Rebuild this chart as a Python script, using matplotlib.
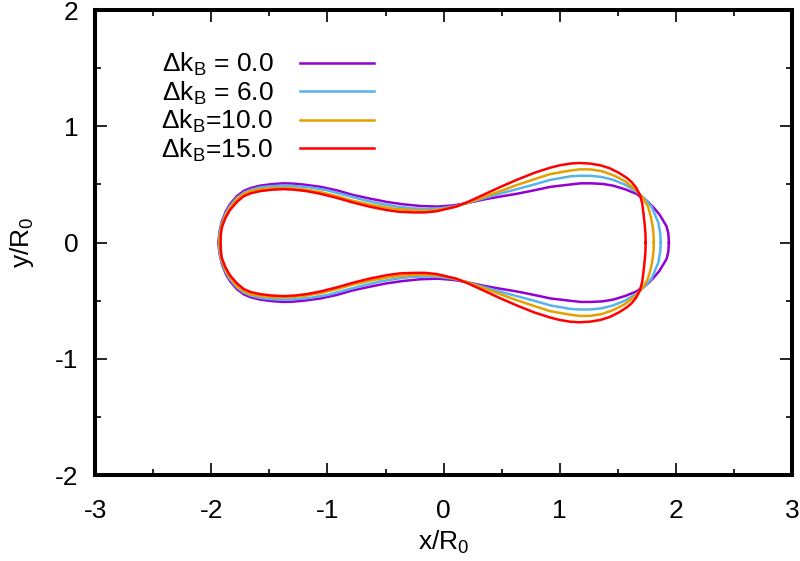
import matplotlib.pyplot as plt
from matplotlib.ticker import MultipleLocator

# upper half of each contour, from right tip over the top to left tip
x_k0 = [1.94, 1.935, 1.92, 1.89, 1.86, 1.81, 1.75, 1.66, 1.56, 1.46, 1.37, 1.27, 1.18, 1.09,
        0.92, 0.78, 0.63, 0.48, 0.34, 0.20, 0.08, -0.05, -0.20, -0.35, -0.49, -0.64, -0.78,
        -0.92, -1.06, -1.21, -1.30, -1.38, -1.48, -1.58, -1.66, -1.72, -1.78, -1.84, -1.875,
        -1.91, -1.93, -1.94]
y_k0 = [0.00, 0.08, 0.14, 0.19, 0.24, 0.30, 0.36, 0.42, 0.46, 0.49, 0.505, 0.51, 0.51, 0.50,
        0.48, 0.45, 0.42, 0.395, 0.37, 0.34, 0.32, 0.31, 0.315, 0.33, 0.35, 0.38, 0.41,
        0.45, 0.48, 0.50, 0.508, 0.51, 0.503, 0.49, 0.47, 0.445, 0.40, 0.33, 0.27,
        0.18, 0.09, 0.00]

x_k6 = [1.87, 1.865, 1.85, 1.82, 1.79, 1.73, 1.66, 1.56, 1.46, 1.36, 1.26, 1.17, 1.09, 0.92,
        0.78, 0.63, 0.48, 0.34, 0.20, 0.08, -0.04, -0.15, -0.28, -0.40, -0.55, -0.70, -0.85,
        -1.00, -1.15, -1.30, -1.40, -1.50, -1.58, -1.66, -1.72, -1.78, -1.84, -1.875, -1.91,
        -1.93, -1.935]
y_k6 = [0.00, 0.08, 0.17, 0.24, 0.31, 0.38, 0.44, 0.50, 0.54, 0.565, 0.575, 0.575, 0.57, 0.54,
        0.50, 0.46, 0.42, 0.38, 0.34, 0.31, 0.295, 0.29, 0.295, 0.31, 0.335, 0.37, 0.41,
        0.45, 0.475, 0.488, 0.49, 0.485, 0.475, 0.455, 0.43, 0.385, 0.315, 0.255, 0.165,
        0.08, 0.00]

x_k10 = [1.81, 1.808, 1.80, 1.785, 1.76, 1.72, 1.66, 1.56, 1.46, 1.36, 1.26, 1.17, 1.09, 0.92,
         0.78, 0.63, 0.48, 0.34, 0.20, 0.10, -0.02, -0.15, -0.30, -0.45, -0.60, -0.78, -0.92,
         -1.06, -1.20, -1.32, -1.45, -1.58, -1.66, -1.72, -1.78, -1.84, -1.875, -1.91, -1.925,
         -1.93]
y_k10 = [0.00, 0.07, 0.14, 0.22, 0.31, 0.38, 0.45, 0.53, 0.58, 0.615, 0.63, 0.63, 0.62, 0.59,
         0.545, 0.495, 0.44, 0.39, 0.34, 0.31, 0.285, 0.275, 0.28, 0.295, 0.32, 0.36, 0.40,
         0.435, 0.458, 0.468, 0.47, 0.46, 0.445, 0.42, 0.375, 0.30, 0.24, 0.15, 0.07,
         0.00]

x_k15 = [1.74, 1.738, 1.73, 1.72, 1.71, 1.69, 1.66, 1.62, 1.58, 1.51, 1.43, 1.35, 1.26, 1.17,
         1.09, 1.00, 0.92, 0.78, 0.63, 0.48, 0.34, 0.22, 0.11, -0.06, -0.16, -0.26, -0.38,
         -0.49, -0.64, -0.78, -0.92, -1.06, -1.18, -1.28, -1.38, -1.48, -1.58, -1.66, -1.72,
         -1.78, -1.84, -1.88, -1.91, -1.918, -1.92]
y_k15 = [0.00, 0.08, 0.17, 0.26, 0.34, 0.41, 0.47, 0.52, 0.555, 0.60, 0.64, 0.665, 0.68, 0.685,
         0.68, 0.665, 0.645, 0.60, 0.54, 0.475, 0.41, 0.355, 0.31, 0.27, 0.26, 0.26, 0.265,
         0.28, 0.31, 0.345, 0.385, 0.42, 0.443, 0.455, 0.46, 0.455, 0.443, 0.425, 0.40,
         0.35, 0.28, 0.21, 0.13, 0.07, 0.00]

labels = [r'$\Delta$k$_\mathregular{B}$ = 0.0', r'$\Delta$k$_\mathregular{B}$ = 6.0',
          r'$\Delta$k$_\mathregular{B}$=10.0', r'$\Delta$k$_\mathregular{B}$=15.0']
colors = ['#9400d3', '#56b4e9', '#e69f00', '#ff0000']

plt.rcParams['font.family'] = ['Liberation Sans', 'DejaVu Sans']
plt.rcParams['mathtext.fontset'] = 'custom'
plt.rcParams['mathtext.rm'] = 'Liberation Sans'
plt.rcParams['mathtext.it'] = 'Liberation Sans'
plt.rcParams['axes.unicode_minus'] = False

fig = plt.figure(figsize=(8, 5.61), dpi=100)
ax = fig.add_axes([0.119, 0.153, 0.871, 0.829])

for xs, ys, lab, c in zip([x_k0, x_k6, x_k10, x_k15], [y_k0, y_k6, y_k10, y_k15], labels, colors):
    # close the contour by mirroring the upper half about y = 0
    xx = xs + xs[-2::-1]
    yy = ys + [-v for v in ys[-2::-1]]
    ax.plot(xx, yy, color=c, lw=1.8, label=lab, solid_joinstyle='round')

ax.set_xlim(-3, 3)
ax.set_ylim(-2, 2)
ax.xaxis.set_major_locator(MultipleLocator(1))
ax.xaxis.set_minor_locator(MultipleLocator(0.5))
ax.yaxis.set_major_locator(MultipleLocator(1))
ax.yaxis.set_minor_locator(MultipleLocator(0.5))
ax.tick_params(which='both', direction='in', top=True, right=True, labelsize=19, width=1.2)
ax.tick_params(which='major', length=8.5)
ax.tick_params(which='minor', length=4.3)
ax.tick_params(axis='x', pad=17)
ax.tick_params(axis='y', pad=12)
for s in ax.spines.values():
    s.set_linewidth(2.9)

ax.set_xlabel(r'x/R$_\mathregular{0}$', fontsize=19, labelpad=4)
ax.set_ylabel(r'y/R$_\mathregular{0}$', fontsize=19, labelpad=14)

ax.legend(loc='upper left', bbox_to_anchor=(0.08, 0.935), frameon=False, fontsize=19,
          markerfirst=False, handlelength=2.8, handletextpad=1.0, labelspacing=0.05,
          borderaxespad=0)

fig.savefig('out.png', dpi=100)
